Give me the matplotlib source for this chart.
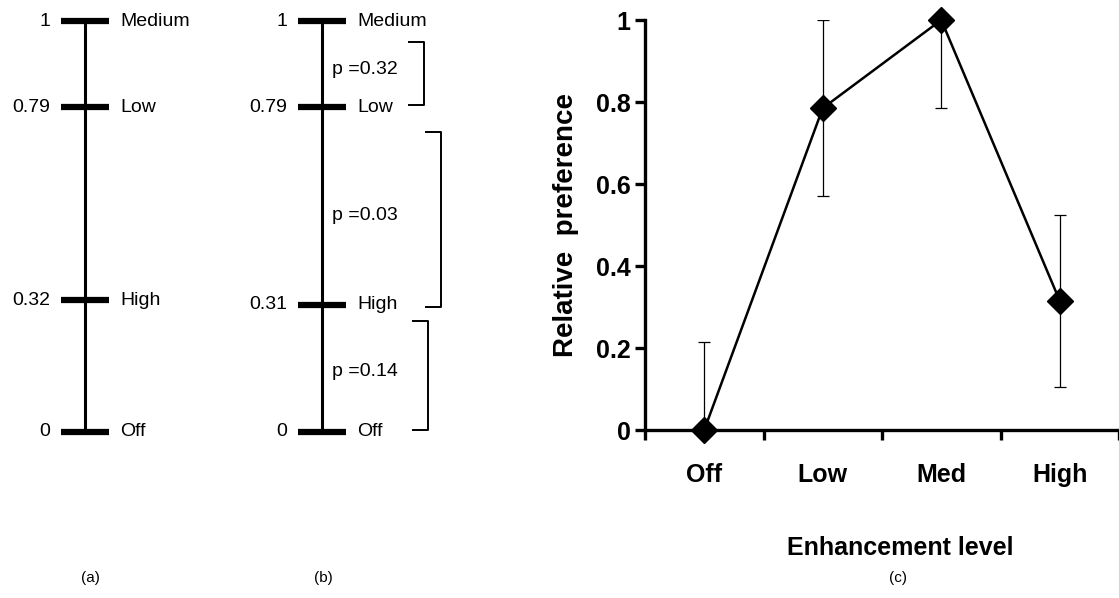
import matplotlib
matplotlib.use('Agg')
import matplotlib.pyplot as plt

plt.rcParams['font.family'] = ['Liberation Sans', 'DejaVu Sans']

# (a) preference scale
a_values = [1.0, 0.79, 0.32, 0.0]
a_labels = ['Medium', 'Low', 'High', 'Off']
a_ticks = ['1', '0.79', '0.32', '0']

# (b) preference scale with significance brackets
b_values = [1.0, 0.79, 0.31, 0.0]
b_labels = ['Medium', 'Low', 'High', 'Off']
b_ticks = ['1', '0.79', '0.31', '0']
p_labels = ['p =0.32', 'p =0.03', 'p =0.14']
bracket_top = [0.95, 0.73, 0.27]
bracket_bottom = [0.795, 0.305, 0.005]
bracket_x = [102, 119, 106]

# (c) relative preference
levels = ['Off', 'Low', 'Med', 'High']
pref = [0.0, 0.785, 1.0, 0.315]
pref_err = [0.215, 0.215, 0.215, 0.21]

fig = plt.figure(figsize=(11.19, 5.98), dpi=100)

W, H = 1119.0, 598.0
y0, y1 = 432.0, 21.0
bottom = (H - y0) / H
height = (y0 - y1) / H


def scale_panel(left_px, width_px, spine_px, values, labels, ticks):
    ax = fig.add_axes([left_px / W, bottom, width_px / W, height])
    ax.set_xlim(left_px - spine_px, left_px + width_px - spine_px)
    ax.set_ylim(0, 1)
    ax.axis('off')
    ax.plot([0, 0], [min(values), max(values)], color='black', lw=2.2,
            solid_capstyle='butt', clip_on=False)
    ax.hlines(values, -24, 24, color='black', lw=4.5, clip_on=False)
    for v, lab, t in zip(values, labels, ticks):
        ax.text(-35, v, t, ha='right', va='center', fontsize=14)
        ax.text(35, v, lab, ha='left', va='center', fontsize=14)
    return ax


ax_a = scale_panel(0, 230, 85, a_values, a_labels, a_ticks)
ax_b = scale_panel(230, 270, 322, b_values, b_labels, b_ticks)

# brackets with p-values
for top, bot, bx, p in zip(bracket_top, bracket_bottom, bracket_x, p_labels):
    ax_b.plot([bx - 15, bx, bx, bx - 15], [top, top, bot, bot],
              color='black', lw=1.4, clip_on=False)
    ax_b.text(10, (top + bot) / 2 + 0.01, p, ha='left', va='center',
              fontsize=14)

# (c)
ax_c = fig.add_axes([645 / W, (H - 430) / H, 474 / W, 410 / H])
x = list(range(len(levels)))
ax_c.errorbar(x, pref, yerr=pref_err, fmt='none', ecolor='black',
              elinewidth=0.9, capsize=4, capthick=0.9)
ax_c.plot(x, pref, color='black', lw=1.8, marker='D', ms=13,
          clip_on=False, zorder=5)
ax_c.set_xlim(-0.5, 3.5)
ax_c.set_ylim(0, 1)
for s in ['top', 'right']:
    ax_c.spines[s].set_visible(False)
for s in ['left', 'bottom']:
    ax_c.spines[s].set_linewidth(2.4)
ax_c.set_yticks([0, 0.2, 0.4, 0.6, 0.8, 1.0])
ax_c.set_yticklabels(['0', '0.2', '0.4', '0.6', '0.8', '1'])
ax_c.set_xticks([-0.5, 0.5, 1.5, 2.5, 3.5])
ax_c.set_xticklabels([])
ax_c.set_xticks(x, minor=True)
ax_c.set_xticklabels(levels, minor=True)
ax_c.tick_params(axis='both', which='major', length=7, width=2.4,
                 direction='out', labelsize=18)
ax_c.tick_params(axis='x', which='minor', length=0, pad=24, labelsize=18)
for lab in ax_c.get_yticklabels() + ax_c.get_xticklabels(minor=True):
    lab.set_fontweight('bold')
ax_c.set_ylabel('Relative  preference', fontsize=20, fontweight='bold',
                labelpad=12)
fig.text(900 / W, 1 - 548 / H, 'Enhancement level', ha='center', va='center',
         fontsize=18, fontweight='bold')

for px, lab in zip([90, 323, 898], ['(a)', '(b)', '(c)']):
    fig.text(px / W, 1 - 578 / H, lab, ha='center', va='center', fontsize=11)

fig.savefig('out.png', dpi=100)
